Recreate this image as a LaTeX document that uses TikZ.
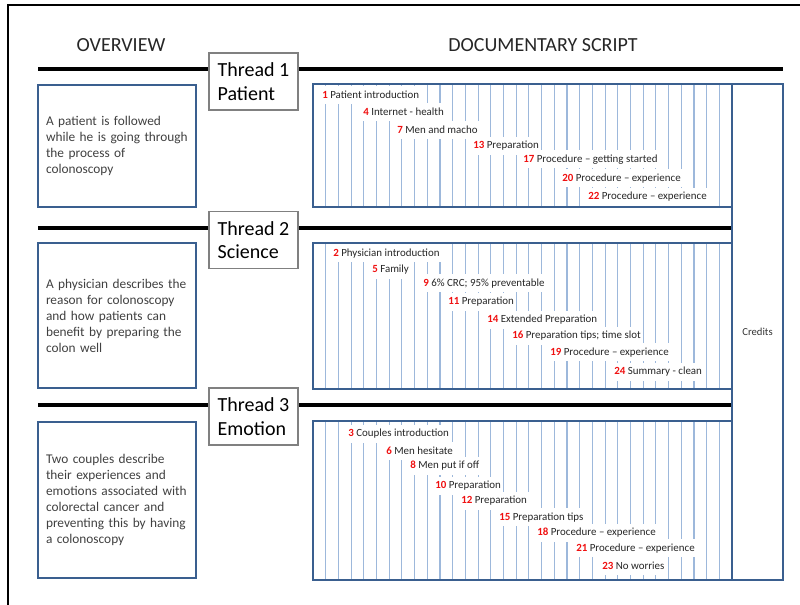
\documentclass[tikz,border=0pt]{standalone}
\usepackage{fontspec}
\setmainfont{Carlito}
\usetikzlibrary{positioning,fit}
\definecolor{boxblue}{HTML}{3A5F8F}
\definecolor{gridblue}{HTML}{9DB8DB}
\definecolor{numred}{HTML}{F01010}
\definecolor{textgray}{HTML}{404040}

\newcommand{\scnum}[1]{\textcolor{numred}{\bfseries #1}}

\tikzset{
  frame/.style={line width=2pt},
  rule/.style={line width=3.5pt},
  heading/.style={font=\fontsize{15}{18}\selectfont, text=black!85},
  thread/.style={draw=black!50, line width=0.8pt, fill=white, align=left,
    inner sep=0pt, minimum width=66.75pt, minimum height=42.75pt,
    font=\fontsize{15}{17.5}\selectfont},
  overview/.style={draw=boxblue, line width=1.5pt, align=left, inner sep=0pt,
    minimum width=118.5pt, text width=106.5pt, text=textgray,
    font=\fontsize{10}{12}\selectfont},
  scriptbox/.style={draw=boxblue, line width=1.5pt, inner sep=0pt},
  gridline/.style={draw=gridblue, line width=0.8pt},
  scene/.style={anchor=west, fill=white, inner xsep=1.5pt, inner ysep=0pt,
    minimum height=13.5pt, text=black!85, font=\fontsize{8.2}{9.8}\selectfont},
  credit/.style={text=black!80, font=\fontsize{8}{9.6}\selectfont}
}

\begin{document}
\begin{tikzpicture}[x=0.75pt,y=-0.75pt]
  \useasboundingbox (0,0) rectangle (800,605);
  % Frame and headings
  \draw[frame] (8,605) -- (8,5) -- (800,5);
  \node[heading] (hover) at (121,45) {OVERVIEW};
  \node[heading] (hscript) at (543,45) {DOCUMENTARY SCRIPT};

  % Rules between the threads
  \coordinate (r1w) at (38,69);  \coordinate (r1e) at (783,69);
  \coordinate (r2w) at (38,228); \coordinate (r2e) at (732,228);
  \coordinate (r3w) at (38,405); \coordinate (r3e) at (732,405);
  \draw[rule] (r1w) -- (r1e);
  \draw[rule] (r2w) -- (r2e);
  \draw[rule] (r3w) -- (r3e);

  % Thread labels
  \node[thread] (t1) at (253.5,81.5) {Thread 1\\Patient};
  \node[thread] (t2) at (253.5,240) {Thread 2\\Science};
  \node[thread] (t3) at (253.5,416.5) {Thread 3\\Emotion};

  % Overview boxes
  \node[overview, minimum height=91.5pt] (ov1) at (117,146)
    {A patient is followed\\while he is going through\\the process of\\colonoscopy};
  \node[overview, minimum height=108.75pt] (ov2) at (117,315.5)
    {A physician describes the\\reason for colonoscopy\\and how patients can\\benefit by preparing the\\colon well};
  \node[overview, minimum height=117pt] (ov3) at (117,500)
    {Two couples describe\\their experiences and\\emotions associated with\\colorectal cancer and\\preventing this by having\\a colonoscopy};

  % Time grid
  \foreach \top/\bot in {84/207,243/389,421/580}
    \foreach \k in {1,...,32}
      \draw[gridline] ({313+12.7*\k},\top) -- ({313+12.7*\k},\bot);

  % Scenes
  \foreach \sn/\px/\py/\stext in {
      1/320/95/Patient introduction,
      4/361/111.7/Internet - health,
      7/395/130/Men and macho,
      13/471/146/Preparation,
      17/521/159.3/Procedure -- getting started,
      20/560/178.3/Procedure -- experience,
      22/586/196.7/Procedure -- experience,
      2/331/253.3/Physician introduction,
      5/370/270/Family,
      9/421/283.3/6\% CRC; 95\% preventable,
      11/446/301.7/Preparation,
      14/485/320/Extended  Preparation,
      16/510/336/Preparation tips; time slot,
      19/548/352.3/Procedure -- experience,
      24/612/371.7/Summary - clean,
      3/346/434/Couples introduction,
      6/384/451/Men hesitate,
      8/408/466/Men put if off,
      10/433/486/Preparation,
      12/459/500.7/Preparation,
      15/497/517.3/Preparation tips,
      18/535/532.7/Procedure -- experience,
      21/574/548.3/Procedure -- experience,
      23/600/565.7/No worries}
    \node[scene] (s\sn) at (\px,\py) {\scnum{\sn} \stext};

  % Script boxes and credits
  \node[scriptbox, fit={(313,84) (732,207)}] (sc1) {};
  \node[scriptbox, fit={(313,243) (732,389)}] (sc2) {};
  \node[scriptbox, fit={(313,421) (732,580)}] (sc3) {};
  \node[scriptbox, fit={(732,84) (783,580)}] (cred) {};
  \node[credit] (credtxt) at (cred.center) {Credits};
\end{tikzpicture}
\end{document}
